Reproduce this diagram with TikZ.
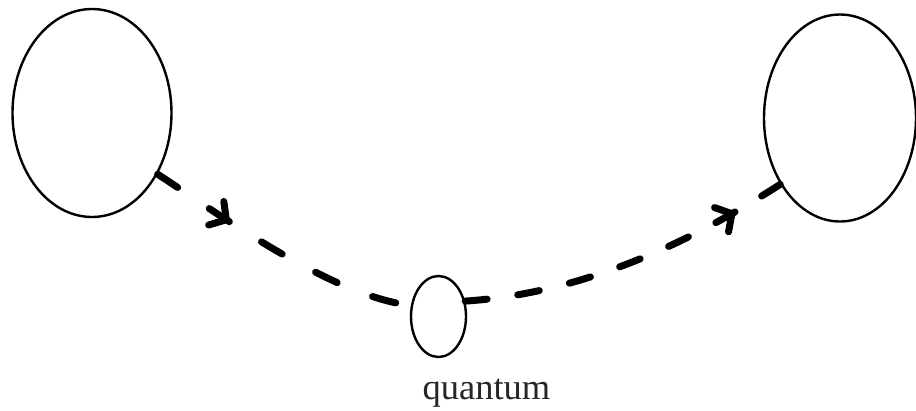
\documentclass[tikz,border=0pt]{standalone}
\usepackage{fontspec}
\setmainfont{Liberation Serif}
\usetikzlibrary{shapes.geometric,arrows.meta,decorations.markings}
\begin{document}
\begin{tikzpicture}[x=1pt,y=-1pt,
  blob/.style={draw=black, ellipse, inner sep=0pt, line width=2.4pt},
  flow/.style={line width=7pt, line cap=round},
  barbtip/.tip={Straight Barb[length=12pt,width=28pt,line width=7pt, line cap=round]}]
\useasboundingbox (0,0) rectangle (916,410);
\node[blob, minimum width=159pt, minimum height=208pt] (L) at (92,113) {};
\node[blob, minimum width=152pt, minimum height=207pt] (R) at (840,118) {};
\node[blob, minimum width=55pt, minimum height=81pt] (Q) at (438.5,316.5) {};
\node[anchor=base, font=\fontsize{36.5}{42}\selectfont, text=black!85] (qt) at (486.5,399) {quantum};
\draw[flow, dash pattern=on 24pt off 38pt, postaction={decorate}, decoration={markings, mark=at position 0.3028 with {\arrow{barbtip}}}]
  (L.-43) .. controls +(57,37) and +(-80,-9) .. (Q.158);
\draw[flow, dash pattern=on 22pt off 30.95pt, postaction={decorate}, decoration={markings, mark=at position 0.8470 with {\arrow{barbtip}}}]
  (Q.30) .. controls +(123,-8) and +(-84,54) .. (R.228);
\end{tikzpicture}
\end{document}
